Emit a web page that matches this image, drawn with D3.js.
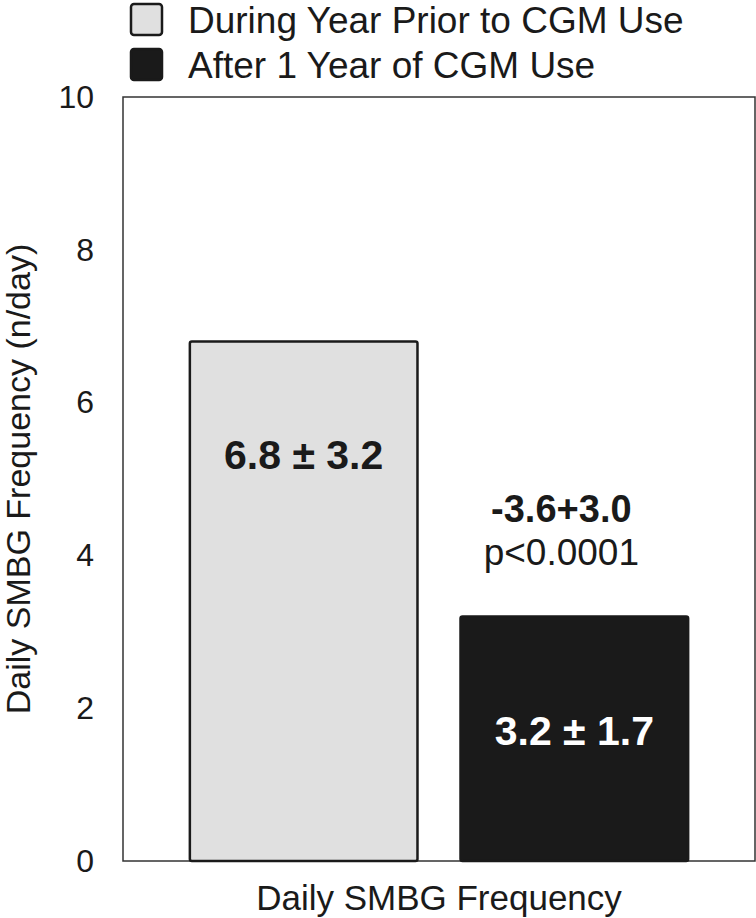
<!DOCTYPE html>
<html>
<head>
<meta charset="utf-8">
<script src="https://cdn.jsdelivr.net/npm/d3@7"></script>
<style>
  body { margin: 0; background: #fff; }
  text { font-family: "Liberation Sans", Arial, Helvetica, sans-serif; fill: #1a1a1a; }
</style>
</head>
<body>
<div id="chart"></div>
<script>
// data
const series = ["During Year Prior to CGM Use", "After 1 Year of CGM Use"];
const values = [6.8, 3.2];
const valueLabels = ["6.8 \u00b1 3.2", "3.2 \u00b1 1.7"];
const fills = ["#e0e0e0", "#1a1a1a"];
const labelColors = ["#1a1a1a", "#ffffff"];
const yTicks = [0, 2, 4, 6, 8, 10];
const diffLabel = "-3.6+3.0";
const pLabel = "p<0.0001";

const width = 756, height = 918;
const margin = {top: 97, right: 1, bottom: 57, left: 123};

const svg = d3.select("#chart")
  .append("svg")
  .attr("width", width)
  .attr("height", height)
  .attr("viewBox", [0, 0, width, height]);

const x = d3.scaleBand()
  .domain(series)
  .range([margin.left, width - margin.right])
  .paddingInner(0.159)
  .paddingOuter(0.247);

const y = d3.scaleLinear()
  .domain([0, 10])
  .range([height - margin.bottom, margin.top]);

// frame
svg.append("rect")
  .attr("x", margin.left)
  .attr("y", y(10))
  .attr("width", width - margin.right - margin.left)
  .attr("height", y(0) - y(10))
  .attr("fill", "none")
  .attr("stroke", "#333")
  .attr("stroke-width", 1.5);

// y axis, labels only
const yAxis = svg.append("g")
  .attr("transform", `translate(${margin.left},0)`)
  .call(d3.axisLeft(y).tickValues(yTicks).tickSize(0).tickPadding(29));
yAxis.select(".domain").remove();
yAxis.selectAll("text")
  .style("font-size", "32px")
  .attr("fill", "#1a1a1a");

// bars
svg.selectAll("rect.bar")
  .data(values)
  .join("rect")
  .attr("class", "bar")
  .attr("x", (d, i) => x(series[i]))
  .attr("y", d => y(d))
  .attr("width", x.bandwidth())
  .attr("height", d => y(0) - y(d))
  .attr("rx", 2)
  .attr("fill", (d, i) => fills[i])
  .attr("stroke", "#1a1a1a")
  .attr("stroke-width", 2.5);

// value labels inside bars
svg.selectAll("text.val")
  .data(values)
  .join("text")
  .attr("class", "val")
  .attr("x", (d, i) => x(series[i]) + x.bandwidth() / 2)
  .attr("y", d => y(d) + 128)
  .attr("text-anchor", "middle")
  .style("font-size", "41px")
  .style("font-weight", "bold")
  .style("fill", (d, i) => labelColors[i])
  .text((d, i) => valueLabels[i]);

// change annotation above the second bar
const cx2 = x(series[1]) + x.bandwidth() / 2 - 13;
svg.append("text")
  .attr("x", cx2)
  .attr("y", y(values[1]) - 95)
  .attr("text-anchor", "middle")
  .style("font-size", "38px")
  .style("font-weight", "bold")
  .text(diffLabel);
svg.append("text")
  .attr("x", cx2)
  .attr("y", y(values[1]) - 52)
  .attr("text-anchor", "middle")
  .style("font-size", "37px")
  .text(pLabel);

// axis titles
svg.append("text")
  .attr("x", (margin.left + width - margin.right) / 2)
  .attr("y", 910)
  .attr("text-anchor", "middle")
  .style("font-size", "35px")
  .text("Daily SMBG Frequency");

svg.append("text")
  .attr("transform", `translate(30,${(y(0) + y(10)) / 2}) rotate(-90)`)
  .attr("text-anchor", "middle")
  .style("font-size", "34px")
  .text("Daily SMBG Frequency (n/day)");

// legend
const legend = svg.append("g");
const items = legend.selectAll("g")
  .data(series)
  .join("g")
  .attr("transform", (d, i) => `translate(131,${4 + i * 45})`);
items.append("rect")
  .attr("width", 31)
  .attr("height", 31)
  .attr("rx", 3)
  .attr("fill", (d, i) => fills[i])
  .attr("stroke", "#1a1a1a")
  .attr("stroke-width", 2.5);
items.append("text")
  .attr("x", 57)
  .attr("y", 29)
  .style("font-size", "37px")
  .text(d => d);
</script>
</body>
</html>
